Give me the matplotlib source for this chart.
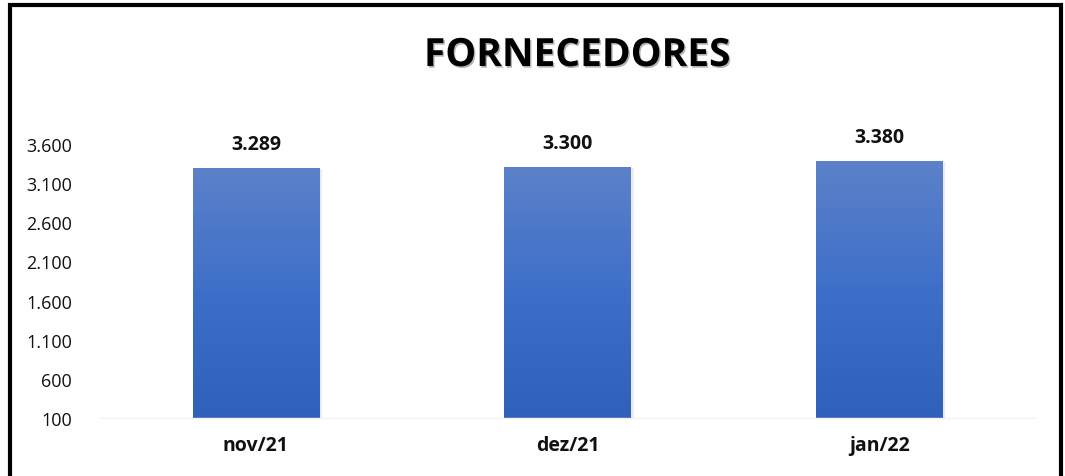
import matplotlib.pyplot as plt
import matplotlib.patheffects as pe
from matplotlib.patches import Rectangle
import numpy as np

# Chart data
months = ["nov/21", "dez/21", "jan/22"]
suppliers = [3289, 3300, 3380]
value_labels = ["3.289", "3.300", "3.380"]
y_ticks = [100, 600, 1100, 1600, 2100, 2600, 3100, 3600]
y_tick_labels = ["100", "600", "1.100", "1.600", "2.100", "2.600", "3.100", "3.600"]

plt.rcParams["font.family"] = ["Open Sans", "DejaVu Sans"]

fig = plt.figure(figsize=(10.65, 4.77), dpi=100)
W, H = 1065, 477

# Plot area placed in pixels
ax = fig.add_axes([100 / W, (H - 419) / H, 935 / W, (419 - 145) / H])

bar_width = 0.405
x_indexes = np.arange(len(months))
bars = ax.bar(x_indexes, [v - 100 for v in suppliers], bottom=100,
              width=bar_width, color="none", edgecolor="none", zorder=2)

# Gradient fill for each bar (lighter at the top)
grad = np.linspace(0, 1, 256).reshape(-1, 1)
cmap = plt.matplotlib.colors.LinearSegmentedColormap.from_list(
    "blues", ["#2F61BA", "#3E6FC8", "#5C81C9"])
for bar in bars:
    x0 = bar.get_x()
    x1 = x0 + bar.get_width()
    y0 = bar.get_y()
    y1 = y0 + bar.get_height()
    # soft shadow on the right side
    ax.add_patch(Rectangle((x0 + 0.01, y0 - 12), bar.get_width(), bar.get_height(),
                           facecolor="#000000", alpha=0.08, edgecolor="none", zorder=1))
    im = ax.imshow(grad, extent=[x0, x1, y0, y1], origin="lower", aspect="auto",
                   cmap=cmap, zorder=2)
    im.set_clip_path(bar)

# Value labels on top of bars
for i, v in enumerate(suppliers):
    ax.text(x_indexes[i], v + 180, value_labels[i], ha="center", va="bottom",
            fontsize=14, fontweight="bold", color="#111111", clip_on=False)

ax.set_xlim(-0.5, 2.5)
ax.set_ylim(100, 3600)
ax.set_yticks(y_ticks)
ax.set_yticklabels(y_tick_labels, fontsize=13, color="#111111")
ax.set_xticks(x_indexes)
ax.set_xticklabels(months, fontsize=14, fontweight="bold", color="#111111")
ax.tick_params(axis="both", length=0)
ax.tick_params(axis="y", pad=20)
ax.tick_params(axis="x", pad=12)

for side in ["top", "right", "left"]:
    ax.spines[side].set_visible(False)
ax.spines["bottom"].set_color("#F2F2F2")
ax.spines["bottom"].set_linewidth(1)

# Title with shadow
fig.text(577 / W, (H - 67) / H, "FORNECEDORES",
         ha="center", va="baseline", fontsize=28, fontweight="bold", color="#000000",
         path_effects=[pe.SimplePatchShadow(offset=(1, -1.2), alpha=0.3), pe.Normal()])

# Black frame around the chart (bottom runs off the picture)
fig.patches.append(Rectangle((10 / W, -0.1), 1051 / W, (H - 6) / H + 0.1,
                             transform=fig.transFigure, fill=False,
                             edgecolor="black", linewidth=3))

plt.savefig("out.png", dpi=100)
